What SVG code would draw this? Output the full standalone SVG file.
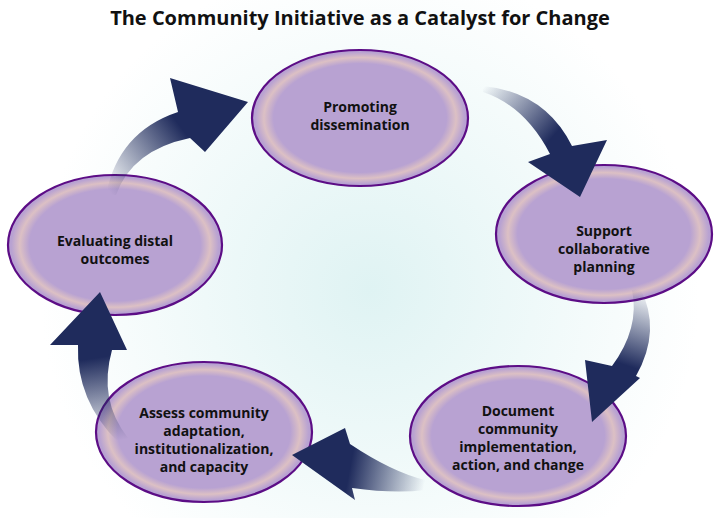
<svg xmlns="http://www.w3.org/2000/svg" width="720" height="518" viewBox="0 0 720 518">
<defs>
<radialGradient id="bg" cx="370" cy="290" r="330" gradientUnits="userSpaceOnUse"><stop offset="0" stop-color="#dff3f3"/><stop offset="1" stop-color="#ffffff"/></radialGradient>
<radialGradient id="el"><stop offset="0" stop-color="#b8a2d2"/><stop offset="0.8" stop-color="#b8a2d2"/><stop offset="0.89" stop-color="#dcc0c4"/><stop offset="0.97" stop-color="#b8a2d2"/></radialGradient>
<linearGradient id="a1" gradientUnits="userSpaceOnUse" x1="483" y1="88" x2="590" y2="180"><stop offset="0" stop-color="#1f2b5c" stop-opacity="0"/><stop offset="0.6" stop-color="#1f2b5c"/></linearGradient>
<linearGradient id="a2" gradientUnits="userSpaceOnUse" x1="640" y1="290" x2="600" y2="410"><stop offset="0" stop-color="#1f2b5c" stop-opacity="0"/><stop offset="0.6" stop-color="#1f2b5c"/></linearGradient>
<linearGradient id="a3" gradientUnits="userSpaceOnUse" x1="425" y1="482" x2="300" y2="458"><stop offset="0" stop-color="#1f2b5c" stop-opacity="0"/><stop offset="0.6" stop-color="#1f2b5c"/></linearGradient>
<linearGradient id="a4" gradientUnits="userSpaceOnUse" x1="122" y1="440" x2="100" y2="300"><stop offset="0" stop-color="#1f2b5c" stop-opacity="0"/><stop offset="0.6" stop-color="#1f2b5c"/></linearGradient>
<linearGradient id="a5" gradientUnits="userSpaceOnUse" x1="112" y1="195" x2="240" y2="100"><stop offset="0" stop-color="#1f2b5c" stop-opacity="0"/><stop offset="0.6" stop-color="#1f2b5c"/></linearGradient>
</defs>
<style>
.n ellipse{fill:url(#el);stroke:#5c0d86;stroke-width:2.2}
.n text{font-family:"Open Sans","Liberation Sans",sans-serif;font-weight:bold;font-size:14px;fill:#111;text-anchor:middle}
.t{font-family:"Open Sans","Liberation Sans",sans-serif;font-weight:bold;font-size:20px;fill:#111;text-anchor:middle}
</style>
<rect width="720" height="518" fill="url(#bg)"/>
<text class="t" x="360" y="25">The Community Initiative as a Catalyst for Change</text>
<g id="n1" class="n"><ellipse cx="360" cy="118" rx="108" ry="68"/><text x="360" y="112">Promoting</text><text x="360" y="130">dissemination</text></g>
<g id="n2" class="n"><ellipse cx="604" cy="234" rx="108" ry="69"/><text x="604" y="236">Support</text><text x="604" y="254">collaborative</text><text x="604" y="272">planning</text></g>
<g id="n3" class="n"><ellipse cx="518" cy="436" rx="108" ry="70"/><text x="518" y="416">Document</text><text x="518" y="434">community</text><text x="518" y="452">implementation,</text><text x="518" y="470">action, and change</text></g>
<g id="n4" class="n"><ellipse cx="204" cy="432" rx="108" ry="70"/><text x="204" y="418">Assess community</text><text x="204" y="436">adaptation,</text><text x="204" y="454">institutionalization,</text><text x="204" y="472">and capacity</text></g>
<g id="n5" class="n"><ellipse cx="115" cy="245" rx="107" ry="70"/><text x="115" y="246">Evaluating distal</text><text x="115" y="264">outcomes</text></g>
<g id="connectors">
<path fill="url(#a1)" d="M483,86 Q545,92 572,146 L607,140 L580,197 L528,162 L550,154 Q525,106 483,92 Z"/>
<path fill="url(#a2)" d="M640,288 Q662,330 636,376 L640,378 L592,422 L585,360 L612,366 Q640,328 632,290 Z"/>
<path fill="url(#a3)" d="M425,480 Q392,472 350,444 L345,428 L292,455 L355,500 L352,488 Q395,494 425,490 Z"/>
<path fill="url(#a4)" d="M128,438 Q98,400 112,350 L127,350 L100,292 L50,345 L78,345 Q76,400 118,442 Z"/>
<path fill="url(#a5)" d="M106,195 Q118,132 178,112 L170,78 L248,102 L205,152 L190,138 Q132,150 116,195 Z"/>
</g>
</svg>
